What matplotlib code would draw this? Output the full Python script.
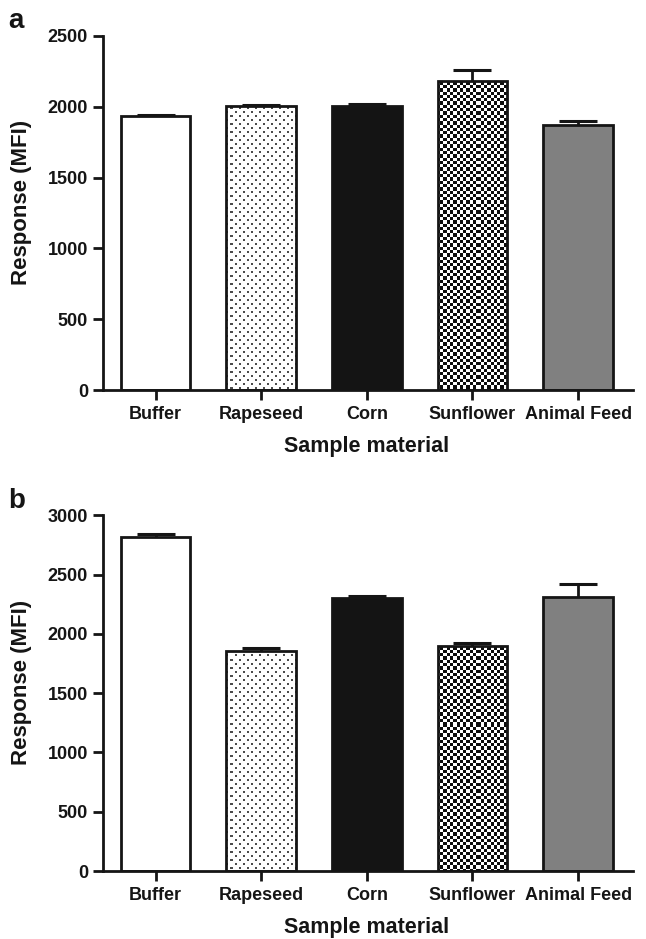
import numpy as np
import matplotlib
matplotlib.use('Agg')
import matplotlib.pyplot as plt

categories = ['Buffer', 'Rapeseed', 'Corn', 'Sunflower', 'Animal Feed']
a_values = [1936, 2005, 2005, 2182, 1868]
a_errors = [7, 6, 15, 75, 31]
b_values = [2820, 1858, 2300, 1898, 2308]
b_errors = [22, 23, 17, 21, 110]
a_yticks = [0, 500, 1000, 1500, 2000, 2500]
b_yticks = [0, 500, 1000, 1500, 2000, 2500, 3000]
xlabel_text = 'Sample material'
ylabel_text = 'Response (MFI)'

plt.rcParams['font.family'] = ['Liberation Sans', 'DejaVu Sans']
plt.rcParams['font.weight'] = 'bold'

W, H = 646, 939
fig = plt.figure(figsize=(W / 100, H / 100), dpi=100)

INK = '#151515'
fills = ['white', 'white', '#141414', 'white', '#808080']


def texture(ax, kind):
    bb = ax.bbox
    w = int(round(bb.width))
    h = int(round(bb.height))
    yy, xx = np.mgrid[0:h, 0:w]
    img = np.ones((h, w, 4))
    if kind == 'dots':
        m = ((xx % 8 < 2) & (yy % 8 < 2)) | (((xx + 4) % 8 < 2) & ((yy + 4) % 8 < 2))
        img[m, :3] = 0.3
    else:
        m = ((np.floor(xx / 3.3) + np.floor(yy / 3.3)) % 2) == 0
        img[m, :3] = 0.05
    x0, x1 = ax.get_xlim()
    y0, y1 = ax.get_ylim()
    im = ax.imshow(img, extent=(x0, x1, y0, y1), origin='upper',
                   interpolation='nearest', aspect='auto', zorder=1.5)
    ax.set_xlim(x0, x1)
    ax.set_ylim(y0, y1)
    return im


def panel(rect, values, errors, yticks, letter, letter_base):
    ax = fig.add_axes(rect)
    x = np.arange(len(categories))
    ax.set_xlim(-0.5, 4.52)
    ax.set_ylim(0, yticks[-1])
    bars = ax.bar(x, values, width=0.66, color=fills, edgecolor='none', zorder=1)
    ax.bar(x, values, width=0.66, fill=False, edgecolor=INK, linewidth=2, zorder=2)
    for idx, kind in [(1, 'dots'), (3, 'checker')]:
        im = texture(ax, kind)
        im.set_clip_path(bars[idx])
    _, caps, _ = ax.errorbar(x, values, yerr=[np.zeros(len(values)), errors],
                             fmt='none', ecolor=INK, elinewidth=2, capsize=13.5,
                             capthick=2.2, zorder=3)
    if len(caps) > 1:
        caps[0].set_visible(False)
    for s in ['top', 'right']:
        ax.spines[s].set_visible(False)
    for s in ['left', 'bottom']:
        ax.spines[s].set_linewidth(2)
        ax.spines[s].set_color(INK)
    ax.set_yticks(yticks)
    ax.set_yticklabels([str(t) for t in yticks])
    ax.set_xticks(x)
    ax.set_xticklabels(categories)
    ax.tick_params(direction='out', length=7.5, width=2, colors=INK, labelsize=13)
    ax.tick_params(axis='y', pad=3)
    ax.tick_params(axis='x', pad=4)
    for lab in ax.get_xticklabels() + ax.get_yticklabels():
        lab.set_fontweight('bold')
    ax.set_ylabel(ylabel_text, fontsize=16, fontweight='bold', color=INK)
    ax.yaxis.set_label_coords(-0.133, 0.53)
    ax.set_xlabel(xlabel_text, fontsize=15.5, fontweight='bold', color=INK)
    ax.xaxis.set_label_coords(0.498, -0.128)
    fig.text(8 / W, 1 - letter_base / H, letter, fontsize=20, fontweight='bold',
             va='baseline', ha='left', color=INK)
    return ax


left = 102.7 / W
width = (633 - 102.7) / W
panel([left, 1 - 390.3 / H, width, (390.3 - 35.7) / H], a_values, a_errors, a_yticks, 'a', 28)
panel([left, 1 - 871 / H, width, (871 - 515.3) / H], b_values, b_errors, b_yticks, 'b', 507.5)

fig.savefig('out.png', dpi=100)
